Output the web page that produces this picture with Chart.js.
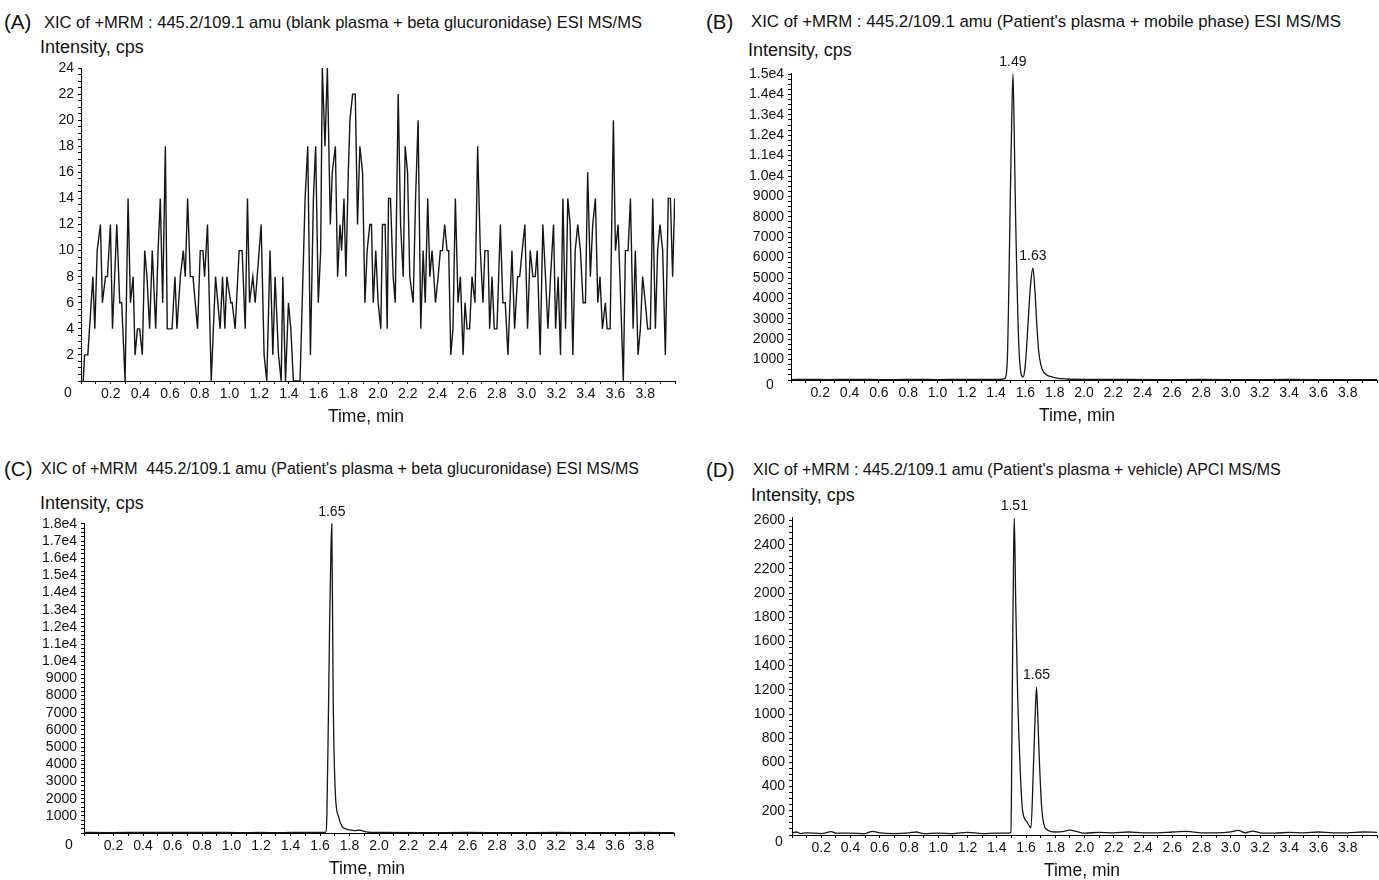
<!DOCTYPE html>
<html><head><meta charset="utf-8">
<script src="https://cdn.jsdelivr.net/npm/chart.js@4.4.1/dist/chart.umd.min.js"></script>
<style>
html,body{margin:0;padding:0;background:#fff;width:1379px;height:880px;overflow:hidden;font-family:"Liberation Sans",Arial,sans-serif;color:#111}
.abs{position:absolute;white-space:nowrap}
.pl{font-size:20.5px;line-height:22px}
.tt{font-size:16px;line-height:18px}
.it{font-size:18px;line-height:20px}
canvas{position:absolute}
</style></head><body>
<div class="abs pl" style="left:4px;top:11px">(A)</div>
<div class="abs tt" style="left:44px;top:13px;font-size:16.5px">XIC of +MRM : 445.2/109.1 amu (blank plasma + beta glucuronidase) ESI MS/MS</div>
<div class="abs it" style="left:40px;top:37px">Intensity, cps</div>
<div class="abs pl" style="left:706px;top:11px">(B)</div>
<div class="abs tt" style="left:751px;top:13px;font-size:16.8px">XIC of +MRM : 445.2/109.1 amu (Patient's plasma + mobile phase) ESI MS/MS</div>
<div class="abs it" style="left:748px;top:40px">Intensity, cps</div>
<div class="abs pl" style="left:4px;top:458px">(C)</div>
<div class="abs tt" style="left:41px;top:460px">XIC of +MRM&nbsp; 445.2/109.1 amu (Patient's plasma + beta glucuronidase) ESI MS/MS</div>
<div class="abs it" style="left:40px;top:493px">Intensity, cps</div>
<div class="abs pl" style="left:706px;top:459px">(D)</div>
<div class="abs tt" style="left:753px;top:461px">XIC of +MRM : 445.2/109.1 amu (Patient's plasma + vehicle) APCI MS/MS</div>
<div class="abs it" style="left:751px;top:485px">Intensity, cps</div>
<canvas id="cA" width="690" height="391" style="left:0px;top:40px"></canvas>
<canvas id="cB" width="689" height="390" style="left:690px;top:40px"></canvas>
<canvas id="cC" width="690" height="393" style="left:0px;top:490px"></canvas>
<canvas id="cD" width="689" height="395" style="left:690px;top:490px"></canvas>
<script>
// ---------- DATA ----------
const xTickLabels = ['0.2','0.4','0.6','0.8','1.0','1.2','1.4','1.6','1.8','2.0','2.2','2.4','2.6','2.8','3.0','3.2','3.4','3.6','3.8'];
const xTitle = 'Time, min';

const timesA = [0.015,0.024,0.046,0.080,0.093,0.109,0.131,0.144,0.165,0.178,0.198,0.212,0.241,0.261,0.274,0.297,0.317,0.333,0.351,0.364,0.380,0.395,0.413,0.429,0.444,0.462,0.480,0.503,0.519,0.534,0.550,0.568,0.581,0.613,0.633,0.646,0.669,0.689,0.702,0.718,0.736,0.754,0.785,0.803,0.821,0.832,0.852,0.877,0.906,0.937,0.953,0.969,0.982,1.009,1.018,1.038,1.065,1.085,1.106,1.121,1.135,1.157,1.173,1.213,1.233,1.251,1.273,
1.292,1.307,1.330,1.348,1.359,1.377,1.397,1.413,1.430,1.475,1.509,1.527,1.545,1.565,1.580,1.598,1.614,1.625,1.643,1.659,1.679,1.692,1.713,1.728,1.744,1.755,1.771,1.784,1.800,1.811,1.829,1.847,1.862,1.878,1.896,1.912,1.927,1.945,1.956,1.968,1.985,2.001,2.019,2.030,2.048,2.062,2.071,2.084,2.102,2.116,2.136,2.152,2.170,2.183,2.199,2.214,2.237,2.253,2.270,2.288,2.304,2.318,2.335,2.349,2.364,2.376,2.387,2.405,2.420,2.434,2.449,2.465,2.476,2.490,2.505,2.521,2.539,2.555,2.573,2.586,2.600,2.617,2.633,2.653,2.671,2.689,2.707,2.720,2.741,
2.752,2.768,2.783,2.801,2.824,2.841,2.857,2.875,2.902,2.920,2.940,2.954,2.971,2.989,3.007,3.025,3.043,3.059,3.072,3.092,3.110,3.128,3.144,3.162,3.182,3.196,3.213,3.229,3.245,3.263,3.278,3.294,3.312,3.328,3.345,3.363,3.381,3.397,3.412,3.430,3.446,3.464,3.480,3.495,3.511,3.531,3.543,3.563,3.585,3.599,3.617,3.635,3.652,3.666,3.684,3.700,3.718,3.733,3.751,3.767,3.782,3.800,3.816,3.834,3.850,3.868,3.883,3.899,3.917,3.935,3.955,3.969,3.984,3.998];
const valuesA = [0,2,2,8,4,10,12,6,8,8,12,4,12,6,6,0,14,6,8,2,4,4,2,10,8,4,10,4,10,14,6,18,4,4,8,4,8,10,8,14,8,8,4,10,10,8,12,0,8,4,8,4,8,6,6,4,10,10,4,14,6,8,6,12,2,0,10,
2,8,2,0,8,0,6,4,0,0,14,18,2,14,18,6,10,24,18,24,12,16,18,8,12,10,14,8,16,20,22,22,12,18,16,6,10,12,12,6,10,6,4,12,12,4,14,14,8,6,22,12,8,18,16,8,6,14,20,4,10,6,14,8,10,8,6,8,10,10,12,10,10,2,4,14,6,8,2,6,4,4,8,6,18,10,6,10,10,
4,8,4,4,12,6,6,2,10,4,8,8,10,12,4,10,8,8,10,2,12,8,4,8,12,4,8,2,14,4,14,12,2,10,12,10,6,6,16,8,12,14,6,8,4,6,4,4,20,10,12,6,0,10,10,14,4,10,2,4,8,6,4,4,14,4,10,12,10,2,14,14,8,14];
const yTickValuesA = [2,4,6,8,10,12,14,16,18,20,22,24];
const yTickLabelsA = ['2','4','6','8','10','12','14','16','18','20','22','24'];

const timesB = [0.00,0.10,0.25,0.40,0.55,0.70,0.85,1.00,1.15,1.30,1.42,1.456,1.470,1.479,1.488,1.497,1.506,1.515,1.524,1.533,1.542,1.551,1.560,1.569,1.583,1.596,1.610,1.624,1.637,1.651,1.664,1.678,1.691,1.705,1.723,1.745,1.779,1.824,1.881,2.00,2.20,2.50,2.80,3.10,3.40,3.70,4.00];
const valuesB = [20,30,20,30,25,20,30,20,30,25,30,50,300,1500,5000,9000,12500,15000,12000,8000,5000,2500,1000,350,150,500,1800,3500,4800,5500,4500,2700,1400,750,400,250,150,80,50,30,25,20,25,20,25,20,20];
const yTickValuesB = [1000,2000,3000,4000,5000,6000,7000,8000,9000,10000,11000,12000,13000,14000,15000];
const yTickLabelsB = ['1000','2000','3000','4000','5000','6000','7000','8000','9000','1.0e4','1.1e4','1.2e4','1.3e4','1.4e4','1.5e4'];

const timesC = [0.00,0.15,0.30,0.45,0.60,0.75,0.90,1.05,1.20,1.30,1.40,1.50,1.60,1.638,1.647,1.656,1.665,1.674,1.680,1.689,1.704,1.725,1.749,1.779,1.808,1.830,1.853,1.870,1.883,1.913,1.943,2.00,2.30,2.60,2.90,3.20,3.50,3.80,4.00];
const valuesC = [30,25,30,40,30,35,30,25,30,20,30,35,30,40,1160,6200,12000,16450,18000,8130,2320,970,390,230,170,140,150,170,140,60,40,30,25,30,25,30,25,30,25];
const yTickValuesC = [1000,2000,3000,4000,5000,6000,7000,8000,9000,10000,11000,12000,13000,14000,15000,16000,17000,18000];
const yTickLabelsC = ['1000','2000','3000','4000','5000','6000','7000','8000','9000','1.0e4','1.1e4','1.2e4','1.3e4','1.4e4','1.5e4','1.6e4','1.7e4','1.8e4'];

const timesD = [0.00,0.03,0.06,0.10,0.20,0.27,0.30,0.40,0.50,0.55,0.60,0.70,0.80,0.85,0.90,1.00,1.10,1.20,1.30,1.40,1.48,1.497,1.503,1.510,1.516,1.520,1.530,1.543,1.563,1.577,1.606,1.620,1.634,1.649,1.663,1.672,1.680,1.692,1.706,1.720,1.749,1.80,1.85,1.90,1.95,2.00,2.10,2.20,2.30,2.40,2.50,2.60,2.70,2.80,2.90,3.00,3.05,3.10,3.15,3.20,3.30,3.40,3.50,3.60,3.70,3.80,3.90,4.00];
const valuesD = [15,25,12,18,12,28,15,15,12,30,18,12,18,25,12,15,12,22,12,15,15,20,700,1700,2400,2620,1900,1150,470,200,110,80,60,500,1000,1220,1000,600,250,100,40,25,28,40,28,15,22,18,25,18,18,25,30,18,18,25,38,18,32,18,15,22,18,25,18,18,25,22];
const yTickValuesD = [200,400,600,800,1000,1200,1400,1600,1800,2000,2200,2400,2600];
const yTickLabelsD = ['200','400','600','800','1000','1200','1400','1600','1800','2000','2200','2400','2600'];

const peaksB = [{t:1.515, v:15000, text:'1.49'}, {t:1.651, v:5500, text:'1.63'}];
const peaksC = [{t:1.680, v:18000, text:'1.65'}];
const peaksD = [{t:1.520, v:2620, text:'1.51'}, {t:1.672, v:1220, text:'1.65'}];

// ---------- RENDER ----------
const FONT = '"Liberation Sans", Arial, sans-serif';
const TXT = '#111';

const extraPlugin = {
  id: 'extra',
  afterDraw(chart, args, opts) {
    const ctx = chart.ctx, xs = chart.scales.x, ys = chart.scales.y, ca = chart.chartArea;
    ctx.save();
    ctx.fillStyle = TXT;
    ctx.font = '14px ' + FONT;
    ctx.textAlign = 'center';
    ctx.textBaseline = 'middle';
    ctx.fillText('0', ca.left + opts.zeroDx, ca.bottom + opts.zeroDy);
    ctx.textBaseline = 'bottom';
    (opts.peaks || []).forEach(p => {
      ctx.fillText(p.text, xs.getPixelForValue(p.t), ys.getPixelForValue(p.v) - 5);
    });
    ctx.font = '17.5px ' + FONT;
    ctx.textBaseline = 'middle';
    ctx.fillText(xTitle, opts.titleX, ca.bottom + 36);
    ctx.restore();
  }
};

function makeChart(id, cfg) {
  const pts = cfg.times.map((t, i) => ({x: t, y: cfg.values[i]}));
  const xMajor = xTickLabels.map(Number);
  const yMajor = cfg.yVals;
  return new Chart(document.getElementById(id), {
    type: 'line',
    data: {datasets: [{data: pts, borderColor: '#161616', borderWidth: cfg.lw, pointRadius: 0,
      tension: 0, cubicInterpolationMode: cfg.smooth ? 'monotone' : 'default', fill: false}]},
    options: {
      responsive: false, animation: false, devicePixelRatio: 1,
      layout: {padding: {top: cfg.padTop, right: cfg.padRight, left: 0, bottom: 0}},
      plugins: {legend: {display: false}, tooltip: {enabled: false}, title: {display: false},
        extra: {zeroDx: cfg.zeroDx, zeroDy: cfg.zeroDy, peaks: cfg.peaks, titleX: cfg.titleX}},
      scales: {
        x: {
          type: 'linear', min: 0, max: 4.0,
          afterBuildTicks: s => {
            const t = [];
            for (let k = 0; k <= 40; k++) t.push({value: k / 10});
            s.ticks = t;
          },
          afterFit: s => { s.height = 50; },
          ticks: {autoSkip: false, maxRotation: 0, minRotation: 0, padding: 2, color: TXT,
            font: {size: 14, family: FONT},
            callback: v => { const i = xMajor.findIndex(m => Math.abs(m - v) < 1e-6); return i >= 0 ? xTickLabels[i] : ''; }},
          grid: {display: true, drawOnChartArea: false, drawTicks: true, tickLength: 3, color: '#000', lineWidth: 1},
          border: {display: true, color: '#000', width: 1},
          title: {display: false}
        },
        y: {
          type: 'linear', min: 0, max: cfg.yMax,
          afterBuildTicks: s => {
            const t = [];
            const n = Math.round(cfg.yTop / cfg.minor);
            for (let k = 0; k <= n; k++) t.push({value: k * cfg.minor});
            s.ticks = t;
          },
          afterFit: s => { s.width = cfg.yWidth; },
          ticks: {autoSkip: false, padding: 4, color: TXT, font: {size: 14, family: FONT},
            callback: v => { const i = yMajor.findIndex(m => Math.abs(m - v) < 1e-6); return i >= 0 ? cfg.yLabs[i] : ''; }},
          grid: {display: true, drawOnChartArea: false, drawTicks: true, tickLength: 3, color: '#000', lineWidth: 1},
          border: {display: true, color: '#000', width: 1}
        }
      }
    },
    plugins: [extraPlugin]
  });
}

makeChart('cA', {times: timesA, values: valuesA, yVals: yTickValuesA, yLabs: yTickLabelsA, yMax: 24, yTop: 24, minor: 0.5,
  yWidth: 81, padTop: 28, padRight: 15, zeroDx: -13, zeroDy: 12, peaks: [], smooth: false, lw: 1.4, titleX: 366});
makeChart('cB', {times: timesB, values: valuesB, yVals: yTickValuesB, yLabs: yTickLabelsB, yMax: 15050, yTop: 15000, minor: 250,
  yWidth: 101, padTop: 33, padRight: 1, zeroDx: -21, zeroDy: 5, peaks: peaksB, smooth: true, lw: 1.3, titleX: 1077 - 690});
makeChart('cC', {times: timesC, values: valuesC, yVals: yTickValuesC, yLabs: yTickLabelsC, yMax: 18050, yTop: 18000, minor: 250,
  yWidth: 84, padTop: 33, padRight: 16, zeroDx: -15, zeroDy: 12, peaks: peaksC, smooth: true, lw: 1.3, titleX: 367});
makeChart('cD', {times: timesD, values: valuesD, yVals: yTickValuesD, yLabs: yTickLabelsD, yMax: 2630, yTop: 2600, minor: 50,
  yWidth: 102, padTop: 27, padRight: 1, zeroDx: -13, zeroDy: 7, peaks: peaksD, smooth: true, lw: 1.3, titleX: 1082 - 690});
</script>
</body></html>
